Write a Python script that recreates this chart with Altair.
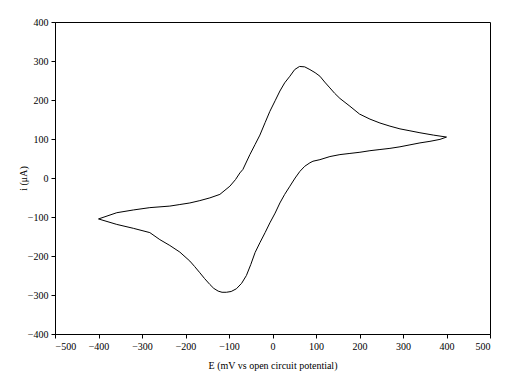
import altair as alt
import pandas as pd

# Forward (upper) branch from -400 mV vertex to +400 mV vertex
fwd_E = [-400, -358, -320, -282, -236, -213, -190, -167, -144, -121, -98, -85, -75, -68, -52, -40, -29, -17, -6, 6, 17, 28, 40, 51, 62, 74, 86, 98, 109, 120, 132, 143, 155, 178, 200, 224, 247, 270, 293, 316, 339, 370, 400]
fwd_i = [-105, -89, -82, -76, -72, -68, -64, -58, -51, -42, -21, -4, 13, 22, 60, 86, 110, 142, 171, 198, 223, 244, 261, 278, 286, 285, 278, 270, 261, 246, 231, 217, 204, 184, 164, 151, 141, 133, 126, 121, 116, 110, 105]

# Reverse (lower) branch from +400 mV back to -400 mV
rev_E = [385, 362, 339, 316, 293, 270, 247, 224, 201, 178, 155, 132, 109, 93, 86, 74, 63, 52, 40, 28, 17, 6, -6, -17, -29, -40, -50, -60, -71, -83, -95, -106, -116, -125, -135, -144, -156, -167, -179, -190, -213, -236, -259, -282, -320, -358, -400]
rev_i = [99, 94, 90, 85, 80, 76, 73, 70, 66, 63, 60, 55, 47, 43, 39, 30, 17, 0, -21, -42, -64, -90, -115, -140, -166, -191, -222, -250, -270, -284, -291, -293, -293, -290, -283, -273, -258, -243, -227, -213, -190, -173, -158, -140, -129, -119, -105]

E = fwd_E + rev_E
cur = fwd_i + rev_i
df = pd.DataFrame({"E": E, "i": cur, "order": list(range(len(E)))})

font = "Liberation Serif"

chart = alt.Chart(df).mark_line(color="black", strokeWidth=1).encode(
    x=alt.X("E:Q", scale=alt.Scale(domain=[-500, 500], nice=False, zero=False),
            axis=alt.Axis(title="E (mV vs open circuit potential)", values=list(range(-500, 501, 100)),
                          grid=False, tickSize=4, labelPadding=3, titleY=31, titleBaseline="middle",
                          format="d", labelFont=font, titleFont=font, labelFontSize=10,
                          titleFontSize=10, titleFontWeight="normal", domainColor="black",
                          tickColor="black", labelColor="black", titleColor="black")),
    y=alt.Y("i:Q", scale=alt.Scale(domain=[-400, 400], nice=False, zero=False),
            axis=alt.Axis(title="i (μA)", values=list(range(-400, 401, 100)),
                          grid=False, tickSize=4, labelPadding=3, titleX=-32, titleBaseline="middle",
                          format="d", labelFont=font, titleFont=font, labelFontSize=10,
                          titleFontSize=10, titleFontWeight="normal", domainColor="black",
                          tickColor="black", labelColor="black", titleColor="black")),
    order="order:Q",
).properties(
    width=435, height=312,
    background="white",
    autosize=alt.AutoSizeParams(type="none"),
    padding={"left": 47, "top": 14, "right": 15, "bottom": 45},
).configure_view(
    stroke="black", strokeWidth=1
)

chart.save("out.html", embed_options={"renderer": "svg", "actions": False})
